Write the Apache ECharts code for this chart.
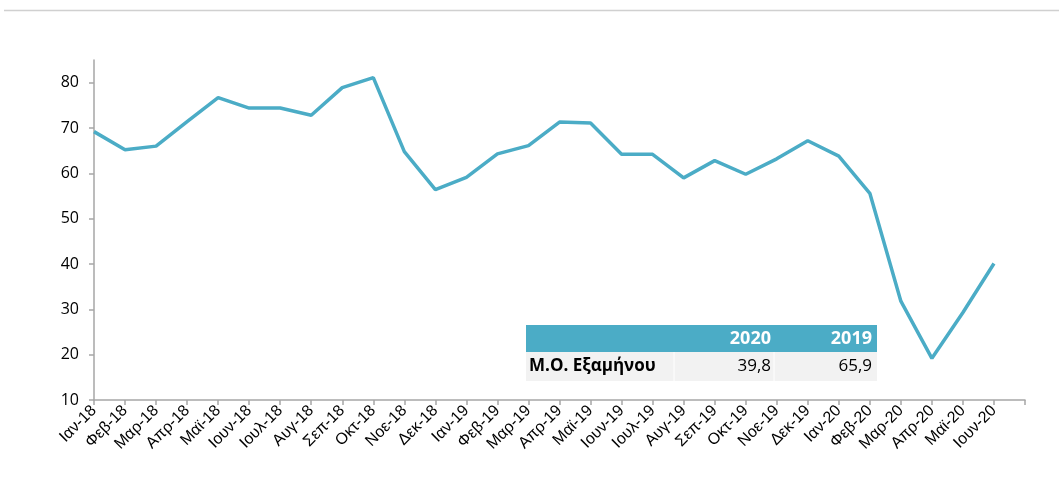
<!DOCTYPE html>
<html>
<head>
<meta charset="utf-8">
<script src="https://cdn.jsdelivr.net/npm/echarts@6/dist/echarts.min.js"></script>
<style>
  html, body { margin: 0; padding: 0; background: #fff; }
  #chart { width: 1059px; height: 504px; }
</style>
</head>
<body>
<div id="chart"></div>
<script>
// μήνες (η τελευταία κενή θέση κρατά το κενό στο τέλος του άξονα)
const months = [
  "Ιαν-18", "Φεβ-18", "Μαρ-18", "Απρ-18", "Μαϊ-18", "Ιουν-18", "Ιουλ-18", "Αυγ-18", "Σεπ-18", "Οκτ-18", "Νοε-18", "Δεκ-18",
  "Ιαν-19", "Φεβ-19", "Μαρ-19", "Απρ-19", "Μαϊ-19", "Ιουν-19", "Ιουλ-19", "Αυγ-19", "Σεπ-19", "Οκτ-19", "Νοε-19", "Δεκ-19",
  "Ιαν-20", "Φεβ-20", "Μαρ-20", "Απρ-20", "Μαϊ-20", "Ιουν-20", ""
];
const values = [
  69.2, 65.2, 66.0, 71.4, 76.7, 74.4, 74.4, 72.8, 78.9, 81.1, 64.8, 56.4,
  59.1, 64.3, 66.1, 71.3, 71.1, 64.2, 64.2, 59.0, 62.8, 59.8, 63.2, 67.2,
  63.8, 55.6, 31.8, 19.2, 29.3, 40.1
];
const yTicks = [10, 20, 30, 40, 50, 60, 70, 80];

// πίνακας μέσων όρων
const tableYears = ["2020", "2019"];
const tableLabel = "Μ.Ο. Εξαμήνου";
const tableValues = ["39,8", "65,9"];

const lineColor = "#4bacc6";
const axisColor = "#a6a6a6";

const chart = echarts.init(document.getElementById("chart"));

// πίνακας σαν graphic
const tLeft = 526, tTop = 325, colR = [771, 872], sepX = [674, 774];
const tableGraphic = [
  { type: "rect", shape: { x: tLeft, y: tTop, width: 351, height: 27 }, style: { fill: lineColor }, z: 10 },
  { type: "rect", shape: { x: tLeft, y: tTop + 27, width: 351, height: 29 }, style: { fill: "#f2f2f2" }, z: 10 },
  { type: "line", shape: { x1: sepX[0], y1: tTop + 27, x2: sepX[0], y2: tTop + 56 }, style: { stroke: "#fff", lineWidth: 1 }, z: 11 },
  { type: "line", shape: { x1: sepX[1], y1: tTop + 27, x2: sepX[1], y2: tTop + 56 }, style: { stroke: "#fff", lineWidth: 1 }, z: 11 },
  {
    type: "text", x: tLeft + 3, y: tTop + 41, z: 12,
    style: { text: tableLabel, fill: "#000", font: "bold 17px 'Open Sans', 'Noto Sans', sans-serif", verticalAlign: "middle" }
  }
];
tableYears.forEach((yr, i) => {
  tableGraphic.push({
    type: "text", x: colR[i], y: tTop + 14, z: 12,
    style: { text: yr, fill: "#fff", font: "bold 18px 'Open Sans', 'Noto Sans', sans-serif", align: "right", verticalAlign: "middle" }
  });
  tableGraphic.push({
    type: "text", x: colR[i], y: tTop + 41, z: 12,
    style: { text: tableValues[i], fill: "#000", font: "17px 'Open Sans', 'Noto Sans', sans-serif", align: "right", verticalAlign: "middle" }
  });
});

const option = {
  animation: false,
  grid: { left: 94, right: 34, top: 60, bottom: 104 },
  xAxis: {
    type: "category",
    boundaryGap: false,
    data: months,
    axisLine: { lineStyle: { color: axisColor, width: 1.5 } },
    axisTick: { show: true, length: 5, interval: 0, lineStyle: { color: axisColor, width: 1.5 } },
    axisLabel: {
      interval: 0,
      rotate: 45,
      margin: 8,
      color: "#000",
      fontSize: 16,
      fontFamily: "'Liberation Sans', Arial, sans-serif"
    },
    splitLine: { show: false }
  },
  yAxis: {
    type: "value",
    min: 10,
    max: 85,
    interval: 10,
    axisLine: { show: true, lineStyle: { color: axisColor, width: 1.5 } },
    axisTick: { show: true, length: 5, customValues: yTicks, lineStyle: { color: axisColor, width: 1.5 } },
    axisLabel: {
      customValues: yTicks,
      margin: 15,
      color: "#000",
      fontSize: 16,
      fontFamily: "'Open Sans', 'Noto Sans', sans-serif"
    },
    splitLine: { show: false }
  },
  series: [
    {
      type: "line",
      data: values,
      symbol: "none",
      lineStyle: { color: lineColor, width: 3.5 },
      itemStyle: { color: lineColor }
    }
  ],
  graphic: [
    { type: "line", shape: { x1: 4, y1: 10.5, x2: 1059, y2: 10.5 }, style: { stroke: "#d0d0d0", lineWidth: 1.5 } }
  ].concat(tableGraphic)
};

chart.setOption(option);
</script>
</body>
</html>
